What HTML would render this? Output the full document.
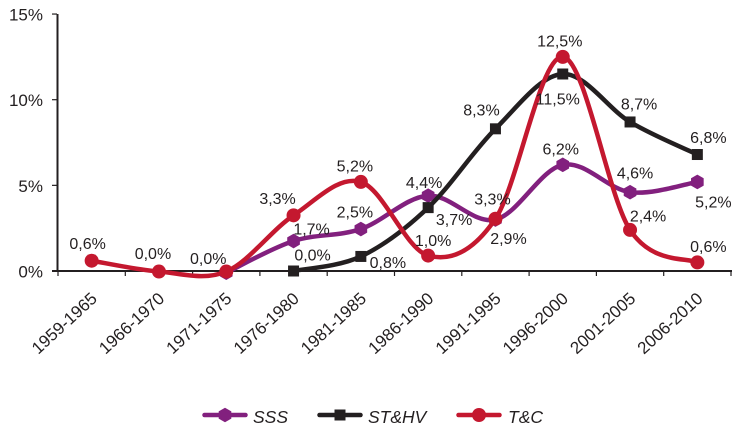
<!DOCTYPE html>
<html lang="vi">
<head>
<meta charset="utf-8">
<title>Chart</title>
<style>
html,body{margin:0;padding:0;background:#fff;width:742px;height:432px;overflow:hidden}
svg{display:block}
text{font-family:"Liberation Sans",sans-serif;fill:#231f20}
</style>
</head>
<body>
<svg id="chart" width="742" height="432" viewBox="0 0 742 432" xmlns="http://www.w3.org/2000/svg"></svg>
<script>
const categories = ["1959-1965","1966-1970","1971-1975","1976-1980","1981-1985","1986-1990","1991-1995","1996-2000","2001-2005","2006-2010"];
const yTicks = [0,5,10,15];
const yTickLabels = ["0%","5%","10%","15%"];
const sssValues = [null,null,-0.1,1.75,2.45,4.4,3.0,6.2,4.6,5.2];
const stValues = [null,null,null,0,0.85,3.7,8.3,11.5,8.7,6.8];
const tcValues = [0.6,-0.03,-0.03,3.25,5.2,0.9,3.05,12.5,2.4,0.5];
const sssLabels = [null,null,null,"1,7%","2,5%","4,4%","2,9%","6,2%","4,6%","5,2%"];
const stLabels = [null,null,null,"0,0%","0,8%","3,7%","8,3%","11,5%","8,7%","6,8%"];
const tcLabels = ["0,6%","0,0%","0,0%","3,3%","5,2%","1,0%","3,3%","12,5%","2,4%","0,6%"];

const NS = "http://www.w3.org/2000/svg";
const svg = document.getElementById("chart");
function xScale(i){ return 58 + 67.3 * (i + 0.5); }
function xEdge(i){ return 58 + 67.3 * i; }
function yScale(v){ return 271 - 17.13 * v; }
function mk(tag, attrs, parent){
  const el = document.createElementNS(NS, tag);
  for (const k in attrs) el.setAttribute(k, attrs[k]);
  (parent || svg).appendChild(el);
  return el;
}
function smoothPath(pts){
  let d = "M" + pts[0][0] + " " + pts[0][1];
  for (let i = 0; i < pts.length - 1; i++){
    const p0 = pts[Math.max(0, i - 1)], p1 = pts[i], p2 = pts[i + 1], p3 = pts[Math.min(pts.length - 1, i + 2)];
    const c1x = p1[0] + (p2[0] - p0[0]) / 6, c1y = p1[1] + (p2[1] - p0[1]) / 6;
    const c2x = p2[0] - (p3[0] - p1[0]) / 6, c2y = p2[1] - (p3[1] - p1[1]) / 6;
    d += " C" + c1x + " " + c1y + " " + c2x + " " + c2y + " " + p2[0] + " " + p2[1];
  }
  return d;
}
function drawMarker(kind, cx, cy, color, parent){
  if (kind === "square"){
    return mk("rect", {x: cx - 5.5, y: cy - 5.5, width: 11, height: 11, fill: color}, parent);
  }
  if (kind === "circle"){
    return mk("circle", {cx: cx, cy: cy, r: 7, fill: color}, parent);
  }
  const r = 7.3;
  let p = [];
  for (let a = 0; a < 6; a++){
    const t = Math.PI / 6 + a * Math.PI / 3;
    p.push((cx + r * Math.cos(t)) + "," + (cy + r * Math.sin(t)));
  }
  return mk("polygon", {points: p.join(" "), fill: color}, parent);
}

/* axes */
const axisGroup = mk("g", {});


const yAxis = mk("line", {x1: 57.5, y1: yScale(15), x2: 57.5, y2: yScale(0) + 1, stroke: "#231f20", "stroke-width": 2}, axisGroup);


const xAxis = mk("line", {x1: 52, y1: yScale(0), x2: 732, y2: yScale(0), stroke: "#231f20", "stroke-width": 2}, axisGroup);


yTicks.forEach(function(v, i){
  const tick = mk("line", {x1: 52, y1: yScale(v), x2: 57, y2: yScale(v), stroke: "#231f20", "stroke-width": 1.2}, axisGroup);
  
  
  const label = mk("text", {x: 43, y: yScale(v) + 6.5, "text-anchor": "end", "font-size": 17}, axisGroup);
  label.textContent = yTickLabels[i];
  
  
});
for (let i = 0; i <= categories.length; i++){
  const tick = mk("line", {x1: xEdge(i), y1: 271, x2: xEdge(i), y2: 276, stroke: "#231f20", "stroke-width": 1.2}, axisGroup);
  
  
}
categories.forEach(function(c, i){
  const ax = xScale(i) + 6.5, ay = 300;
  const label = mk("text", {x: ax, y: ay, "text-anchor": "end", "font-size": 17, transform: "rotate(-42.5 " + ax + " " + ay + ")"}, axisGroup);
  label.textContent = c;
  
  
});

/* series */
function drawSeries(values, color, kind, name){
  const g = mk("g", {});
  
  
  const pts = [];
  values.forEach(function(v, i){ if (v !== null) pts.push([xScale(i), yScale(v)]); });
  const line = mk("path", {d: smoothPath(pts), fill: "none", stroke: color, "stroke-width": 4.5, "stroke-linecap": "round"}, g);
  
  
  pts.forEach(function(p){
    const m = drawMarker(kind, p[0], p[1], color, g);
    
    
  });
}
drawSeries(sssValues, "#82207e", "hex", "series-sss");
drawSeries(stValues, "#231f20", "square", "series-st-hv");
drawSeries(tcValues, "#c4182f", "circle", "series-t-c");

/* data labels: offsets from each point, placed by hand to avoid the lines */
function drawLabels(values, labels, offsets, name){
  labels.forEach(function(t, i){
    if (t === null) return;
    const o = offsets[i];
    const el = mk("text", {x: xScale(i) + o[0], y: yScale(values[i]) + o[1] + 5.5, "text-anchor": "middle", "font-size": 16});
    el.textContent = t;
    
    
  });
}
drawLabels(sssValues, sssLabels, [null,null,null,[18,-12],[-6,-17],[-4,-13],[13,19],[-2,-16],[5,-19],[16,20]], "sss-data-label");
drawLabels(stValues, stLabels, [null,null,null,[19,-16],[27,6],[26,12],[-14,-19],[-5,25],[9,-18],[11,-17]], "st-hv-data-label");
drawLabels(tcValues, tcLabels, [[-4,-17],[-6,-18],[-18,-13],[-16,-17],[-6,-16],[5,-15],[-3,-20],[-3,-16],[18,-14],[11,-16]], "t-c-data-label");

/* legend */
function drawLegend(x, textX, color, kind, text, name){
  const g = mk("g", {});
  
  
  mk("line", {x1: x - 20.5, y1: 415, x2: x + 20.5, y2: 415, stroke: color, "stroke-width": 4.5, "stroke-linecap": "round"}, g);
  drawMarker(kind, x, 415, color, g);
  const t = mk("text", {x: textX, y: 423, "font-size": 17.5, "font-style": "italic"}, g);
  t.textContent = text;
}
drawLegend(225, 253, "#82207e", "hex", "SSS", "legend-entry-sss");
drawLegend(340, 368, "#231f20", "square", "ST&HV", "legend-entry-st-hv");
drawLegend(479, 508, "#c4182f", "circle", "T&C", "legend-entry-t-c");
</script>
</body>
</html>
